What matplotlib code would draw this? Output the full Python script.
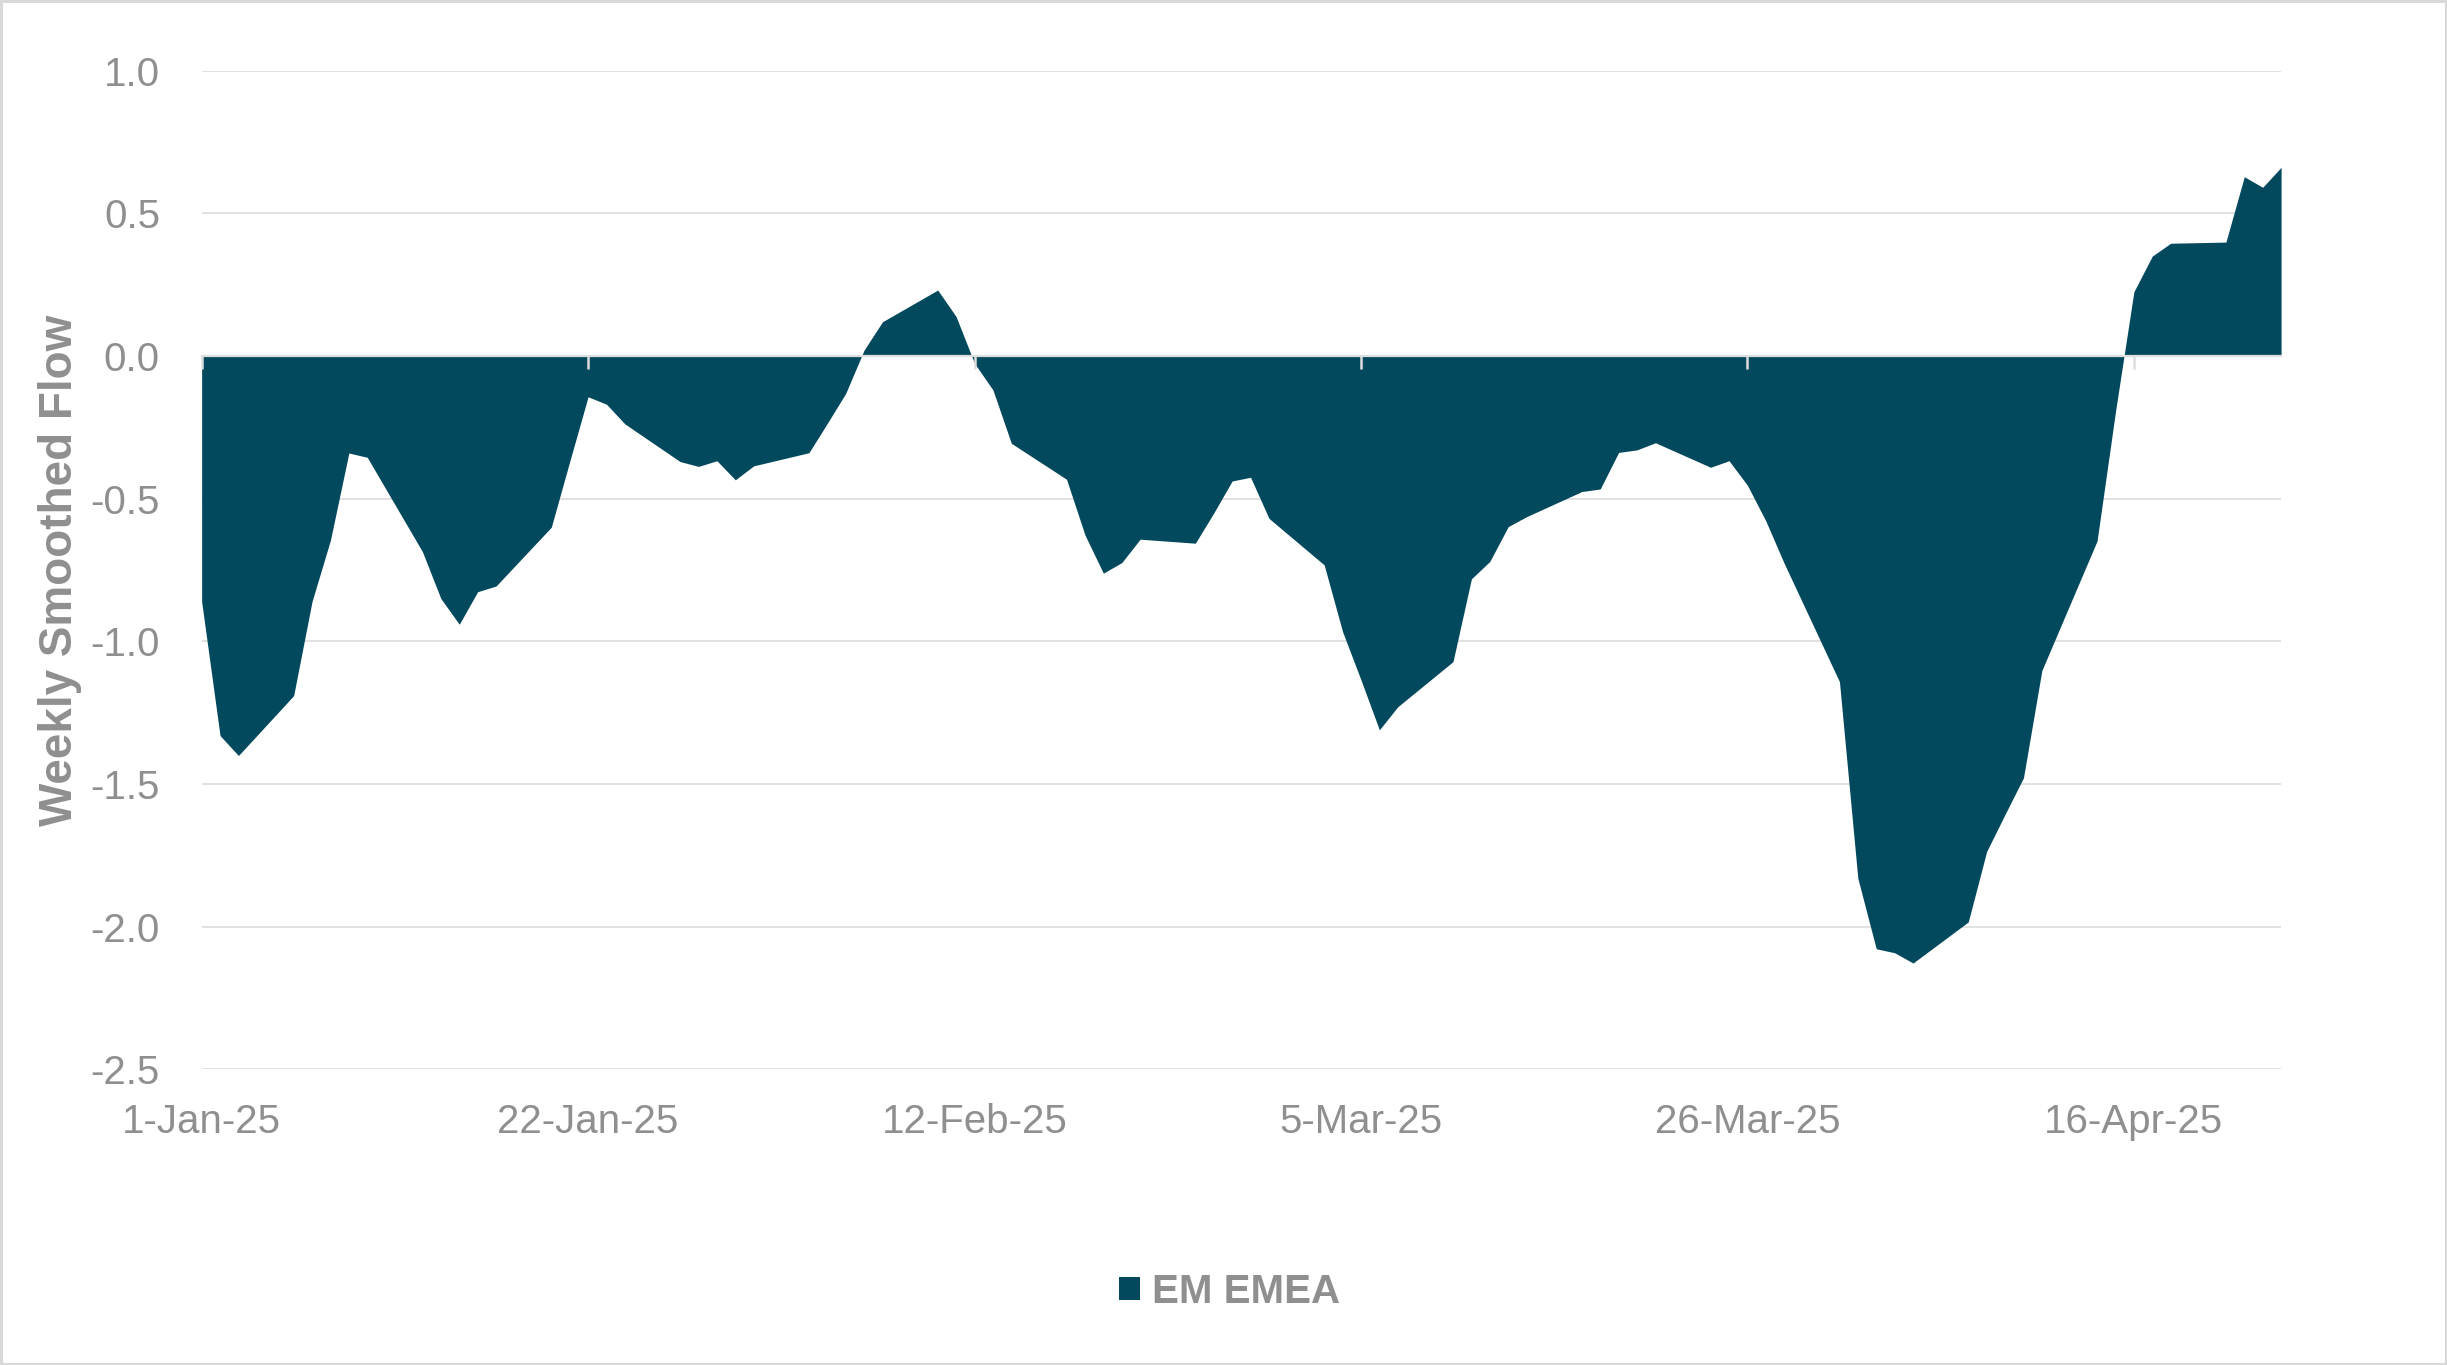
import numpy as np
import pandas as pd
import matplotlib
matplotlib.use("Agg")
import matplotlib.pyplot as plt
from matplotlib.patches import Patch
from matplotlib.ticker import FuncFormatter, MultipleLocator

plt.rcParams['font.family'] = ['Liberation Sans', 'DejaVu Sans']
plt.rcParams['axes.unicode_minus'] = False

# business days, 1-Jan-25 .. 24-Apr-25
dates = pd.bdate_range('2025-01-01', '2025-04-24')
flow = [
    # Jan
    -0.86, -1.33, -1.40, -1.19, -0.86, -0.645, -0.34, -0.355,
    -0.686, -0.85, -0.94, -0.826, -0.806,
    -0.60, -0.37, -0.143, -0.169, -0.238,
    -0.37, -0.387, -0.367, -0.434, -0.385,
    # Feb
    -0.339, -0.236, -0.131, 0.021, 0.12,
    0.231, 0.138, -0.026, -0.119, -0.306,
    -0.432, -0.627, -0.761, -0.724, -0.642,
    -0.656, -0.55, -0.438, -0.425, -0.569,
    # Mar
    -0.732, -0.966, -1.135, -1.31, -1.229,
    -1.071, -0.781, -0.72, -0.598, -0.563,
    -0.475, -0.466, -0.338, -0.329, -0.304,
    -0.39, -0.367, -0.453, -0.578, -0.727,
    -1.141,
    # Apr
    -1.83, -2.077, -2.091, -2.127,
    -1.983, -1.736, -1.606, -1.478, -1.102,
    -0.648, -0.195, 0.225, 0.35, 0.395,
    0.399, 0.628, 0.591, 0.661,
]
series_name = 'EM EMEA'
y_label = 'Weekly Smoothed Flow'
x_ticks = pd.date_range('2025-01-01', '2025-04-24', freq='21D')

fill_col = '#03495E'
text_col = '#8F8F8F'
grid_col = '#DEDEDE'

fig = plt.figure(figsize=(24.47, 13.65), dpi=100)
fig.patch.set_edgecolor('#D9D9D9')
fig.patch.set_linewidth(2.5)
ax = fig.add_axes([0.0824, 0.2165, 0.8498, 0.7318])

ax.fill_between(dates, flow, 0, color=fill_col, linewidth=0, zorder=2)

ax.set_xlim(pd.Timestamp('2025-01-01'), pd.Timestamp('2025-04-24'))
ax.set_ylim(-2.5, 1.0)
ax.yaxis.set_major_locator(MultipleLocator(0.5))
ax.yaxis.set_major_formatter(FuncFormatter(lambda v, p: f'{v:.1f}'))
ax.set_xticks(x_ticks)
ax.xaxis.set_major_formatter(FuncFormatter(
    lambda v, p: '{}-{}'.format(matplotlib.dates.num2date(v).day,
                                matplotlib.dates.num2date(v).strftime('%b-%y'))))
ax.grid(axis='y', color=grid_col, linewidth=1.3, zorder=0)
ax.set_axisbelow(True)
for s in ax.spines.values():
    s.set_visible(False)
ax.tick_params(axis='both', length=0, labelsize=29, labelcolor=text_col)
ax.tick_params(axis='y', pad=30)
ax.tick_params(axis='x', pad=24)

# zero line with tick marks, drawn above the area
ax0 = ax.secondary_xaxis(2.5 / 3.5)
ax0.set_zorder(3)
ax0.set_xticks(x_ticks)
ax0.set_xticklabels([])
for s in ax0.spines.values():
    s.set_color(grid_col)
    s.set_linewidth(1.6)
ax0.tick_params(axis='x', direction='in', length=9, width=1.8, color=grid_col)

ax.set_ylabel(y_label, fontsize=33, fontweight='bold', color=text_col)
ax.yaxis.set_label_coords(-0.0575, 0.5)

fig.legend(handles=[Patch(facecolor=fill_col, label=series_name)],
           loc='center', bbox_to_anchor=(0.5025, 0.0535), frameon=False,
           prop={'size': 29, 'weight': 'bold'}, labelcolor=text_col,
           handlelength=0.5, handleheight=0.5, handletextpad=0.3)

fig.savefig('out.png', dpi=100, edgecolor=fig.get_edgecolor())
